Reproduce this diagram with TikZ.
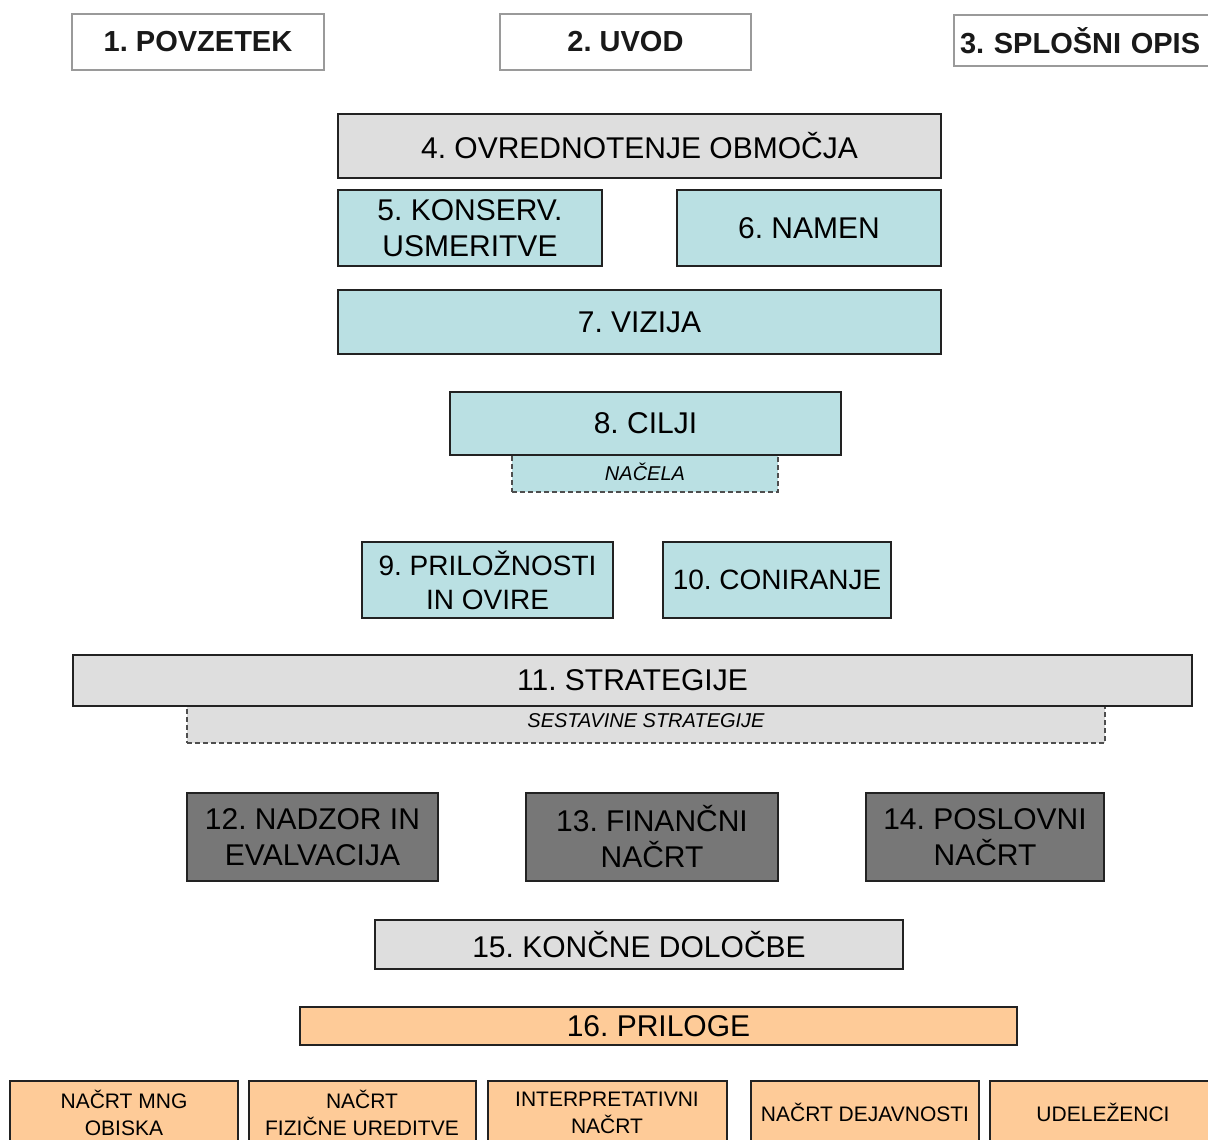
\documentclass[tikz,border=0pt]{standalone}
\usepackage{fontspec}
\setmainfont{Liberation Sans}
\frenchspacing
\definecolor{cyanfill}{HTML}{BAE0E3}
\definecolor{grayfill}{HTML}{DEDEDE}
\definecolor{darkfill}{HTML}{777777}
\definecolor{peachfill}{HTML}{FECB98}
\definecolor{topborder}{HTML}{9A9A9A}
\definecolor{boxborder}{HTML}{222222}
\tikzset{
  box/.style={draw=boxborder, line width=1.4pt, inner sep=0pt, align=center, text=black,
    font=\fontsize{30}{36}\selectfont},
  topbox/.style={draw=topborder, line width=2pt, fill=white, inner sep=0pt, align=center,
    font=\bfseries\fontsize{29}{34}\selectfont, text=black!90},
  subbox/.style={draw=boxborder!80, dashed, dash pattern=on 5pt off 3pt, line width=1.4pt,
    inner sep=0pt, align=center, font=\itshape\fontsize{20}{24}\selectfont},
  appbox/.style={draw=boxborder, line width=1.4pt, fill=peachfill, inner sep=0pt},
  apptext/.style={inner sep=0pt, align=center, font=\fontsize{21}{27}\selectfont},
}
\newcommand{\bx}[7]{% name, style, x1, y1, x2, y2, text
  \node[#2, minimum width={#5-#3}, minimum height={#6-#4}] (#1) at ({(#3+#5)/2},{(#4+#6)/2}) {#7};}
\begin{document}
\begin{tikzpicture}[x=1pt,y=-1pt]
\useasboundingbox[fill=white] (0,0) rectangle (1208,1140);
% top row
\bx{b1}{topbox}{72}{14}{324}{70}{1. POVZETEK}
\bx{b2}{topbox}{500}{14}{751}{70}{2. UVOD}
\node[topbox, minimum width=280, minimum height=51, anchor=north west, text width=270, align=left, inner xsep=6pt] (b3) at (953,14) {3. SPLOŠNI OPIS};
% 4
\bx{b4}{box, fill=grayfill}{338}{114}{941}{178}{4. OVREDNOTENJE OBMOČJA}
\bx{b5}{box, fill=cyanfill}{338}{190}{602}{266}{5. KONSERV.\\USMERITVE}
\bx{b6}{box, fill=cyanfill}{677}{190}{941}{266}{6. NAMEN}
\bx{b7}{box, fill=cyanfill}{338}{290}{941}{354}{7. VIZIJA}
% 8
\bx{nacela}{subbox, fill=cyanfill}{512}{452}{778}{492}{NAČELA}
\bx{b8}{box, fill=cyanfill}{450}{392}{841}{455}{8. CILJI}
% 9, 10
\bx{b9}{box, fill=cyanfill, font=\fontsize{28}{34}\selectfont}{362}{542}{613}{618}{9. PRILOŽNOSTI\\IN OVIRE}
\bx{b10}{box, fill=cyanfill, font=\fontsize{28}{34}\selectfont}{663}{542}{891}{618}{10. CONIRANJE}
% 11
\bx{sest}{subbox, fill=grayfill}{187}{704}{1105}{743}{\raisebox{6pt}{SESTAVINE STRATEGIJE}}
\bx{b11}{box, fill=grayfill}{73}{655}{1192}{706}{11. STRATEGIJE}
% 12-14
\bx{b12}{box, fill=darkfill}{187}{793}{438}{881}{12. NADZOR IN\\EVALVACIJA}
\bx{b13}{box, fill=darkfill}{526}{793}{778}{881}{13. FINANČNI\\NAČRT}
\bx{b14}{box, fill=darkfill}{866}{793}{1104}{881}{14. POSLOVNI\\NAČRT}
% 15
\bx{b15}{box, fill=grayfill}{375}{920}{903}{969}{15. KONČNE DOLOČBE}
% 16
\bx{b16}{box, fill=peachfill}{300}{1007}{1017}{1045}{16. PRILOGE}
% appendices
\bx{a1}{appbox}{10}{1081}{238}{1161}{}
\bx{a2}{appbox}{249}{1081}{476}{1161}{}
\bx{a3}{appbox}{488}{1081}{727}{1161}{}
\bx{a4}{appbox}{751}{1081}{979}{1161}{}
\bx{a5}{appbox}{990}{1081}{1230}{1161}{}
\node[apptext] (a1t) at (124,1113) {NAČRT MNG\\OBISKA};
\node[apptext] (a2t) at (362,1113) {NAČRT\\FIZIČNE UREDITVE};
\node[apptext] (a3t) at (607,1113) {INTERPRETATIVNI\\NAČRT};
\node[apptext] (a4t) at (865,1112) {NAČRT DEJAVNOSTI};
\node[apptext] (a5t) at (1103,1112) {UDELEŽENCI};
\end{tikzpicture}
\end{document}
